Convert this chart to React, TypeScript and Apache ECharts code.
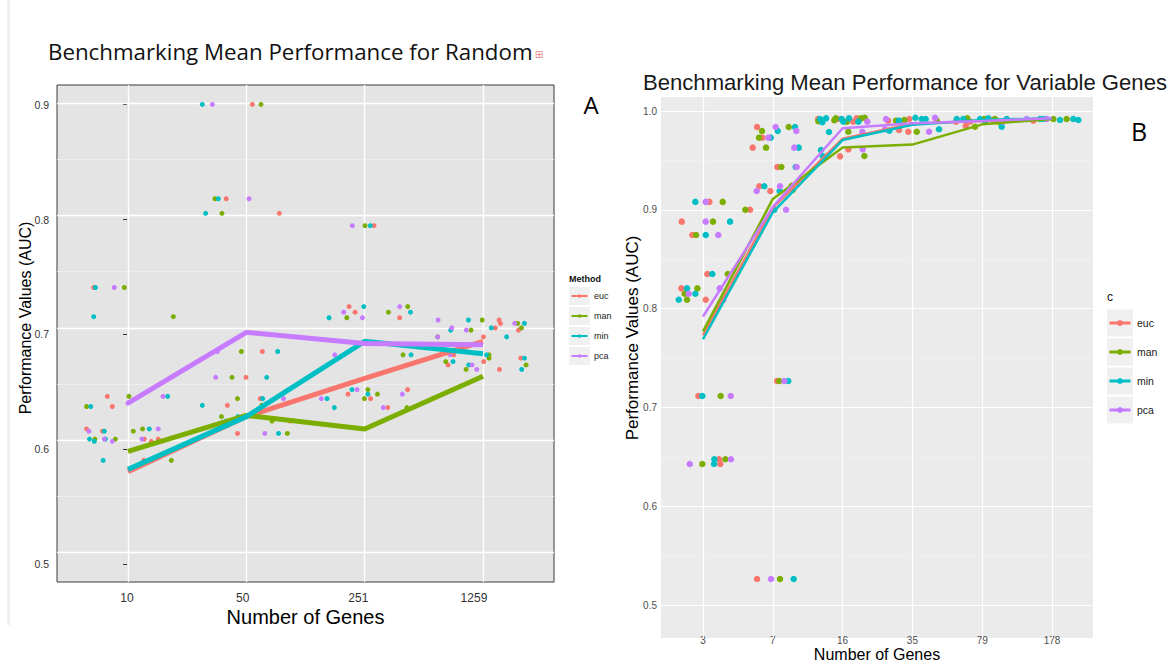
import React, { useEffect, useRef } from 'react';
import * as echarts from 'echarts';

// ---------- categories & ticks ----------
const leftCategories = ['10', '50', '251', '1259'];
const rightCategories = ['3', '7', '16', '35', '79', '178'];
const methods = ['euc', 'man', 'min', 'pca'];
const methodColors = ['#F8766D', '#7CAE00', '#00BFC4', '#C77CFF'];

const leftYTicks = [0.5, 0.6, 0.7, 0.8, 0.9];
const leftYMinor = [0.55, 0.65, 0.75, 0.85];
const leftXTicks = [0, 1, 2, 3];
const rightYTicks = [0.5, 0.6, 0.7, 0.8, 0.9, 1.0];
const rightYMinor = [0.55, 0.65, 0.75, 0.85, 0.95];
const rightXTicks = [0, 1, 2, 3, 4, 5];

// ---------- panel A: means per number of genes ----------
const leftMeanEuc = [0.572, 0.621, 0.655, 0.688];
const leftMeanMan = [0.59, 0.622, 0.61, 0.657];
const leftMeanMin = [0.574, 0.621, 0.688, 0.677];
const leftMeanPca = [0.633, 0.696, 0.686, 0.685];

// ---------- panel A: jittered points [position, AUC] ----------
const leftPointsEuc = [
  [-0.29, 0.736], [-0.175, 0.639], [-0.133, 0.63], [-0.35, 0.61], [-0.215, 0.608], [0.138, 0.601], [0.197, 0.599], [0.255, 0.601], [0.133, 0.582],
  [1.051, 0.899], [0.83, 0.815], [1.279, 0.802], [1.135, 0.679], [0.997, 0.656], [0.84, 0.631], [0.925, 0.606], [1.118, 0.637], [1.37, 0.617],
  [2.079, 0.791], [1.868, 0.719], [1.919, 0.714], [2.296, 0.709], [1.859, 0.641], [2.05, 0.637], [2.195, 0.629], [2.363, 0.645],
  [3.136, 0.707], [3.147, 0.704], [3.104, 0.7], [3.3, 0.698], [3.004, 0.692], [2.753, 0.676], [3.006, 0.67], [3.319, 0.673], [2.705, 0.667], [3.139, 0.663],
];
const leftPointsMan = [
  [-0.031, 0.736], [0.383, 0.71], [0.008, 0.639], [-0.35, 0.63], [-0.28, 0.601], [-0.107, 0.601], [0.045, 0.608], [0.123, 0.61], [0.366, 0.582],
  [1.124, 0.899], [0.735, 0.815], [0.794, 0.802], [0.958, 0.679], [0.879, 0.656], [0.925, 0.637], [1.13, 0.631], [0.79, 0.621], [1.217, 0.617], [1.347, 0.606],
  [2.003, 0.791], [2.364, 0.719], [2.201, 0.714], [1.849, 0.709], [2.324, 0.676], [1.998, 0.637], [2.027, 0.645], [2.108, 0.641], [2.357, 0.629],
  [2.993, 0.707], [3.293, 0.704], [3.325, 0.7], [2.899, 0.698], [2.617, 0.692], [3.051, 0.676], [3.051, 0.673], [2.685, 0.67], [3.364, 0.667], [2.857, 0.663],
];
const leftPointsMin = [
  [-0.275, 0.736], [-0.29, 0.71], [0.335, 0.639], [-0.315, 0.63], [-0.325, 0.601], [-0.285, 0.599], [-0.2, 0.608], [-0.19, 0.601], [-0.21, 0.582], [0.18, 0.61],
  [0.628, 0.899], [0.763, 0.815], [0.656, 0.802], [1.265, 0.679], [1.172, 0.656], [0.628, 0.631], [0.828, 0.617], [1.138, 0.637], [1.272, 0.606], [0.929, 0.621],
  [2.048, 0.791], [1.992, 0.719], [2.387, 0.714], [1.699, 0.709], [2.392, 0.676], [1.744, 0.629], [1.893, 0.645], [2.027, 0.641], [1.682, 0.637],
  [2.877, 0.707], [3.35, 0.704], [2.727, 0.698], [3.07, 0.7], [3.2, 0.692], [3.03, 0.676], [2.747, 0.67], [3.35, 0.673], [2.879, 0.667], [3.327, 0.663],
];
const leftPointsPca = [
  [-0.116, 0.736], [0.296, 0.639], [-0.33, 0.608], [-0.2, 0.601], [-0.133, 0.599], [0.255, 0.61], [0.118, 0.601], [0.0, 0.633],
  [0.713, 0.899], [1.023, 0.815], [0.755, 0.679], [0.741, 0.656], [1.156, 0.606], [1.314, 0.637],
  [1.896, 0.791], [2.296, 0.719], [1.823, 0.714], [1.981, 0.709], [1.747, 0.676], [1.634, 0.637], [1.935, 0.645], [2.157, 0.629], [2.318, 0.641],
  [2.62, 0.707], [3.268, 0.704], [2.736, 0.7], [2.859, 0.698], [2.617, 0.692], [2.722, 0.676], [2.908, 0.667], [2.947, 0.663],
];

// ---------- panel B: means ----------
const rightMeanEuc = [0.773, 0.902, 0.972, 0.987, 0.99, 0.9926];
const rightMeanMan = [0.777, 0.911, 0.963, 0.966, 0.9865, 0.992];
const rightMeanMin = [0.769, 0.8975, 0.9706, 0.986, 0.991, 0.9926];
const rightMeanPca = [0.792, 0.903, 0.9825, 0.9875, 0.99, 0.9926];

// ---------- panel B: jittered points ----------
const rightPointsEuc = [
  [0.062, 0.835], [-0.31, 0.8205], [0.039, 0.809], [-0.067, 0.7115], [0.248, 0.6427], [0.229, 0.6475], [-0.305, 0.888], [0.09, 0.908], [-0.153, 0.8745],
  [1.06, 0.7267], [0.774, 0.5263], [0.673, 0.9], [0.807, 0.9238], [0.964, 0.919], [1.065, 0.9433], [0.712, 0.9629], [0.774, 0.9838], [0.85, 0.973],
  [1.648, 0.9919], [1.93, 0.9919], [1.963, 0.9541], [2.082, 0.9612], [2.202, 0.9926], [2.153, 0.9892],
  [2.65, 0.9902], [2.956, 0.9919], [2.808, 0.9808], [2.941, 0.979],
  [3.625, 0.9892], [3.764, 0.9851], [3.825, 0.9892], [4.15, 0.9909],
  [4.732, 0.9902],
];
const rightPointsMan = [
  [0.354, 0.835], [-0.081, 0.8205], [-0.262, 0.815], [-0.229, 0.809], [0.253, 0.7115], [-0.01, 0.6427], [0.32, 0.6475], [0.282, 0.908], [0.143, 0.888], [-0.1, 0.8745],
  [1.093, 0.7267], [1.103, 0.5263], [0.606, 0.9], [1.27, 0.9244], [1.285, 0.92], [1.122, 0.9433], [0.903, 0.9629], [0.845, 0.9798], [0.802, 0.973], [1.228, 0.9838],
  [1.652, 0.9896], [1.881, 0.9906], [1.901, 0.9926], [2.059, 0.9892], [2.082, 0.979], [2.264, 0.9926], [2.317, 0.9932], [2.311, 0.9545],
  [2.765, 0.9902], [2.884, 0.9909], [3.062, 0.979], [3.348, 0.9902],
  [3.787, 0.9926], [3.897, 0.9841], [4.026, 0.9919], [4.183, 0.9919], [4.231, 0.9892],
  [5.019, 0.9919], [5.21, 0.9919],
];
const rightPointsMin = [
  [0.133, 0.835], [-0.229, 0.8205], [-0.11, 0.815], [-0.348, 0.809], [-0.01, 0.7115], [0.158, 0.6427], [0.162, 0.6475], [-0.11, 0.908], [0.387, 0.888], [0.039, 0.8745],
  [1.222, 0.7267], [1.299, 0.5263], [1.02, 0.9], [0.878, 0.9238], [1.098, 0.919], [1.328, 0.9433], [1.371, 0.9629], [0.97, 0.973], [1.07, 0.9798], [1.318, 0.9838],
  [1.69, 0.9605], [1.715, 0.9545], [1.676, 0.9919], [1.762, 0.9926], [1.709, 0.9886], [1.805, 0.9787], [1.987, 0.9919], [2.01, 0.9892], [2.092, 0.9926], [2.225, 0.9892],
  [2.669, 0.98], [2.808, 0.9902], [3.042, 0.9932], [3.133, 0.9919], [3.19, 0.9919], [3.381, 0.9815],
  [3.635, 0.9919], [3.729, 0.9919], [3.968, 0.9919], [4.044, 0.9892], [4.087, 0.9926], [4.351, 0.9919], [4.279, 0.9841],
  [4.828, 0.9919], [4.875, 0.9919], [5.115, 0.9909], [5.305, 0.9919], [5.377, 0.9909],
];
const rightPointsPca = [
  [-0.205, 0.815], [0.239, 0.8205], [0.29, 0.809], [0.397, 0.7115], [-0.19, 0.6427], [0.401, 0.6475], [0.039, 0.908], [0.039, 0.888], [0.219, 0.8745],
  [1.165, 0.7267], [0.974, 0.5263], [1.19, 0.9], [0.769, 0.919], [1.103, 0.9238], [1.342, 0.9433], [1.308, 0.9629], [0.936, 0.973], [1.04, 0.9838], [1.337, 0.9798],
  [2.282, 0.979], [2.288, 0.9612], [2.354, 0.9892],
  [2.622, 0.9919], [2.607, 0.9815], [3.238, 0.979], [3.324, 0.9932],
  [4.294, 0.9892],
  [4.637, 0.9919], [4.924, 0.9919],
];

const leftMeans = [leftMeanEuc, leftMeanMan, leftMeanMin, leftMeanPca];
const leftPoints = [leftPointsEuc, leftPointsMan, leftPointsMin, leftPointsPca];
const rightMeans = [rightMeanEuc, rightMeanMan, rightMeanMin, rightMeanPca];
const rightPoints = [rightPointsEuc, rightPointsMan, rightPointsMin, rightPointsPca];

function gridLines(xi: number, yi: number, hMajor: number[], hMinor: number[], vMajor: number[],
  major: string, minor: string, majorW: number, minorW: number) {
  return {
    type: 'line',
    name: 'grid' + xi,
    xAxisIndex: xi,
    yAxisIndex: yi,
    data: [],
    silent: true,
    z: 1,
    markLine: {
      silent: true,
      z: 1,
      symbol: ['none', 'none'],
      label: { show: false },
      emphasis: { disabled: true },
      data: [
        ...hMinor.map((v) => ({ yAxis: v, lineStyle: { color: minor, width: minorW, type: 'solid' } })),
        ...hMajor.map((v) => ({ yAxis: v, lineStyle: { color: major, width: majorW, type: 'solid' } })),
        ...vMajor.map((v) => ({ xAxis: v, lineStyle: { color: major, width: majorW, type: 'solid' } })),
      ],
    },
  };
}

function legendGraphics(x: number, titleY: number, firstY: number, step: number, boxW: number, boxH: number,
  lineW: number, dotR: number, fontSize: number, title: string, titleBold: boolean, titleSize: number) {
  const els: any[] = [
    {
      type: 'text', x, y: titleY,
      style: {
        text: title, fill: '#111', fontFamily: 'Liberation Sans', fontSize: titleSize,
        fontWeight: titleBold ? 'bold' : 'normal', textAlign: 'left', textVerticalAlign: 'middle', align: 'left', verticalAlign: 'middle',
      },
    },
  ];
  methods.forEach((m, i) => {
    const cy = firstY + i * step;
    els.push({ type: 'rect', shape: { x, y: cy - boxH / 2, width: boxW, height: boxH }, style: { fill: '#f0f0f0' } });
    els.push({ type: 'line', shape: { x1: x + 2.5, y1: cy, x2: x + boxW - 2.5, y2: cy }, style: { stroke: methodColors[i], lineWidth: lineW } });
    els.push({ type: 'circle', shape: { cx: x + boxW / 2, cy, r: dotR }, style: { fill: methodColors[i] } });
    els.push({
      type: 'text', x: x + boxW + 4, y: cy,
      style: {
        text: m, fill: '#1a1a1a', fontFamily: 'Liberation Sans', fontSize,
        textAlign: 'left', textVerticalAlign: 'middle', align: 'left', verticalAlign: 'middle',
      },
    });
  });
  return els;
}

export default function App() {
  const ref = useRef<HTMLDivElement>(null);
  useEffect(() => {
    if (!ref.current) return;
    const chart = echarts.init(ref.current, null, { renderer: 'svg' });
    const series: any[] = [
      gridLines(0, 0, leftYTicks, leftYMinor, leftXTicks, '#ffffff', '#efefef', 1.3, 0.8),
      gridLines(2, 2, rightYTicks, rightYMinor, rightXTicks, '#ffffff', '#f4f4f4', 1.2, 0.6),
    ];
    methods.forEach((m, i) => {
      series.push({
        type: 'scatter', name: m, xAxisIndex: 0, yAxisIndex: 0, data: leftPoints[i],
        symbolSize: 5, itemStyle: { color: methodColors[i], opacity: 1 }, z: 2,
      });
    });
    methods.forEach((m, i) => {
      series.push({
        type: 'scatter', name: m, xAxisIndex: 2, yAxisIndex: 2, data: rightPoints[i],
        symbolSize: 6.5, itemStyle: { color: methodColors[i], opacity: 1 }, z: 2,
      });
    });
    methods.forEach((m, i) => {
      series.push({
        type: 'line', name: m, xAxisIndex: 0, yAxisIndex: 0,
        data: leftMeans[i].map((v, k) => [k, v]), symbol: 'none',
        lineStyle: { color: methodColors[i], width: 5 }, z: 3,
      });
    });
    methods.forEach((m, i) => {
      series.push({
        type: 'line', name: m, xAxisIndex: 2, yAxisIndex: 2,
        data: rightMeans[i].map((v, k) => [k, v]), symbol: 'none',
        lineStyle: { color: methodColors[i], width: 2.5 }, z: 3,
      });
    });

    const option: any = {
      animation: false,
      backgroundColor: '#ffffff',
      title: [
        {
          text: 'Benchmarking Mean Performance for Random', left: 48, top: 40, padding: 0,
          textStyle: { fontFamily: 'Open Sans', fontSize: 22.3, fontWeight: 'normal', color: '#111' },
        },
        {
          text: 'Benchmarking Mean Performance for Variable Genes', left: 643, top: 71, padding: 0,
          textStyle: { fontFamily: 'Liberation Sans', fontSize: 22.1, fontWeight: 'normal', color: '#1a1a1a' },
        },
      ],
      grid: [
        { left: 57, top: 85, width: 497, height: 497, show: true, backgroundColor: '#e4e4e4', borderColor: '#3a3a3a', borderWidth: 1, containLabel: false, outerBoundsMode: 'none' },
        { left: 661, top: 97, width: 432, height: 541, show: true, backgroundColor: '#ebebeb', borderWidth: 0, containLabel: false, outerBoundsMode: 'none' },
      ],
      xAxis: [
        { type: 'value', gridIndex: 0, min: -0.6, max: 3.6, show: false },
        {
          type: 'value', gridIndex: 0, position: 'bottom', min: -0.605, max: 3.692,
          axisLine: { show: false, onZero: false }, splitLine: { show: false },
          axisTick: { show: false },
          axisLabel: {
            customValues: leftXTicks, margin: 10, fontFamily: 'Liberation Sans', fontSize: 12, color: '#333',
            formatter: (v: number) => leftCategories[Math.round(v)] ?? '',
          },
          name: 'Number of Genes', nameLocation: 'middle', nameGap: 25, nameMoveOverlap: false,
          nameTextStyle: { fontFamily: 'Liberation Sans', fontSize: 20, color: '#000' },
        },
        {
          type: 'value', gridIndex: 1, position: 'bottom', min: -0.602, max: 5.587,
          axisLine: { show: false, onZero: false }, splitLine: { show: false },
          axisTick: { show: true, inside: true, length: 4, customValues: rightXTicks, lineStyle: { color: '#333' } },
          axisLabel: {
            customValues: rightXTicks, margin: -3, fontFamily: 'Liberation Sans', fontSize: 10, color: '#4d4d4d',
            formatter: (v: number) => rightCategories[Math.round(v)] ?? '',
          },
          name: 'Number of Genes', nameLocation: 'middle', nameGap: 8, nameMoveOverlap: false,
          nameTextStyle: { fontFamily: 'Liberation Sans', fontSize: 16, color: '#000' },
        },
      ],
      yAxis: [
        { type: 'value', gridIndex: 0, min: 0.4737, max: 0.9163, show: false },
        {
          type: 'value', gridIndex: 0, position: 'left', min: 0.4843, max: 0.9172,
          axisLine: { show: false }, splitLine: { show: false },
          axisTick: { show: true, length: 4, customValues: leftYTicks, lineStyle: { color: '#333' } },
          axisLabel: {
            customValues: leftYTicks, margin: 8, fontFamily: 'Liberation Sans', fontSize: 10.5, color: '#333',
            formatter: (v: number) => v.toFixed(1),
          },
        },
        {
          type: 'value', gridIndex: 1, position: 'left', min: 0.4666, max: 1.01417,
          axisLine: { show: false }, splitLine: { show: false },
          axisTick: { show: true, length: 3, customValues: rightYTicks, lineStyle: { color: '#333' } },
          axisLabel: {
            customValues: rightYTicks, margin: 4, fontFamily: 'Liberation Sans', fontSize: 10, color: '#4d4d4d',
            formatter: (v: number) => v.toFixed(1),
          },
        },
      ],
      graphic: [
        { type: 'rect', shape: { x: 7, y: 0, width: 3, height: 625 }, style: { fill: '#efefef' }, z: -1 },
        {
          type: 'text', x: 539, y: 54,
          style: { text: '⊞', fill: '#f08080', fontFamily: 'DejaVu Sans', fontSize: 10, textAlign: 'center', textVerticalAlign: 'middle', align: 'center', verticalAlign: 'middle' },
        },
        {
          type: 'text', x: 591, y: 104,
          style: { text: 'A', fill: '#000', fontFamily: 'Open Sans', fontSize: 24, textAlign: 'center', textVerticalAlign: 'middle', align: 'center', verticalAlign: 'middle' },
        },
        {
          type: 'text', x: 1139, y: 131,
          style: { text: 'B', fill: '#000', fontFamily: 'Open Sans', fontSize: 25, textAlign: 'center', textVerticalAlign: 'middle', align: 'center', verticalAlign: 'middle' },
        },
        {
          type: 'text', x: 25, y: 318, rotation: Math.PI / 2,
          style: { text: 'Performance Values (AUC)', fill: '#000', fontFamily: 'Liberation Sans', fontSize: 16, textAlign: 'center', textVerticalAlign: 'middle', align: 'center', verticalAlign: 'middle' },
        },
        {
          type: 'text', x: 632, y: 338, rotation: Math.PI / 2,
          style: { text: 'Performance Values (AUC)', fill: '#000', fontFamily: 'Liberation Sans', fontSize: 17, textAlign: 'center', textVerticalAlign: 'middle', align: 'center', verticalAlign: 'middle' },
        },
        ...legendGraphics(569, 279, 296, 20, 21, 18, 2, 1.8, 9, 'Method', true, 9),
        ...legendGraphics(1107, 297, 323, 29, 26, 27, 3, 3, 10.5, 'c', false, 12),
      ],
      series,
    };
    chart.setOption(option);
    return () => chart.dispose();
  }, []);
  return <div ref={ref} style={{ position: 'fixed', left: 0, top: 0, width: 1171, height: 661, background: '#fff' }} />;
}
